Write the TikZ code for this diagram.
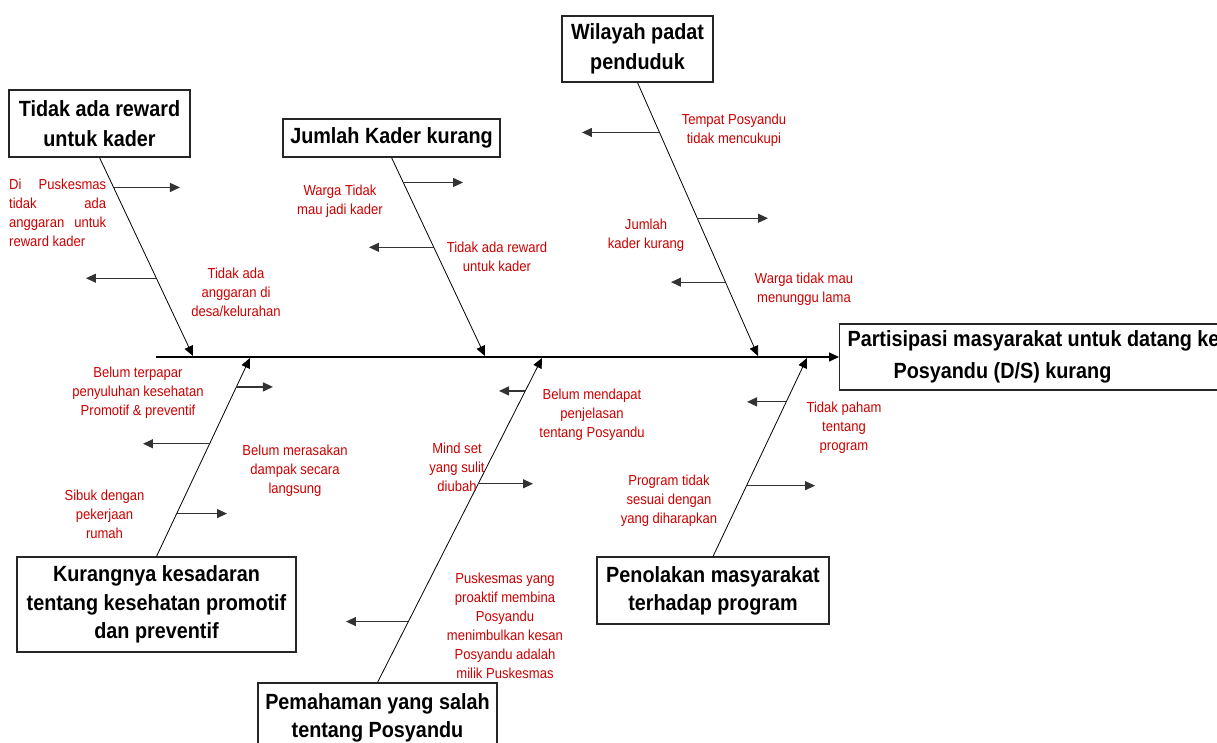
\documentclass[tikz,border=0pt]{standalone}
\usepackage{fontspec}
\usetikzlibrary{arrows.meta,calc}
\newfontfamily\labfont[FakeStretch=0.9]{Liberation Sans}
\definecolor{labred}{RGB}{204,0,0}
\begin{document}
\begin{tikzpicture}[x=1pt,y=-1pt,
  box/.style={draw=black!85, line width=1.1pt, fill=white, inner sep=0pt, align=center,
    font=\labfont\bfseries\fontsize{22}{29.7}\selectfont},
  lab/.style={text=labred, inner sep=0pt, align=center, anchor=base,
    font=\labfont\fontsize{14.5}{19}\selectfont},
  bone/.style={line width=0.8pt, -{Triangle[length=10pt,width=9pt]}},
  subarrow/.style={line width=1.2pt, draw=black!80, -{Triangle[length=10pt,width=9pt]}},
  spine/.style={line width=1.3pt, -{Triangle[length=10pt,width=9pt]}}]
\useasboundingbox (0,0) rectangle (1217,743);

% effect box
\node[box, anchor=west, inner xsep=8pt, minimum height=66pt, align=left,
  font=\labfont\bfseries\fontsize{22}{31.7}\selectfont] (E) at (839,357)
  {\makebox[400pt][l]{Partisipasi masyarakat untuk datang ke}\\\hspace*{46pt}Posyandu (D/S) kurang};

% cause boxes
\node[box, minimum width=181pt, minimum height=67pt] (B1) at (99.5,123.5) {Tidak ada reward\\untuk kader};
\node[box, minimum width=217pt, minimum height=38pt] (B2) at (391.5,138) {Jumlah Kader kurang};
\node[box, minimum width=151pt, minimum height=66pt] (B3) at (637.5,49) {Wilayah padat\\penduduk};
\node[box, minimum width=279pt, minimum height=95pt, font=\labfont\bfseries\fontsize{22}{28.5}\selectfont] (B4) at (156.5,604.5) {Kurangnya kesadaran\\tentang kesehatan promotif\\dan preventif};
\node[box, minimum width=239pt, minimum height=69pt, font=\labfont\bfseries\fontsize{22}{28}\selectfont] (B5) at (377.5,717.5) {Pemahaman yang salah\\tentang Posyandu};
\node[box, minimum width=232pt, minimum height=67pt, font=\labfont\bfseries\fontsize{22}{28}\selectfont] (B6) at (713,590.5) {Penolakan masyarakat\\terhadap program};

% spine
\coordinate (s0) at (156,357);
\draw[spine] (s0) -- (E.west);

% bone tips on the spine
\coordinate (t1) at (193,356);
\coordinate (t2) at (485,356);
\coordinate (t3) at (758,356);
\coordinate (b1) at (250,358);
\coordinate (b2) at (542,358);
\coordinate (b3) at (807,358);

\draw[bone] (B1.south) -- (t1);
\draw[bone] (B2.south) -- (t2);
\draw[bone] (B3.south) -- (t3);
\draw[bone] (B4.north) -- (b1);
\draw[bone] (B5.north) -- (b2);
\draw[bone] (B6.north) -- (b3);

% sub-cause arrows
\coordinate (a11) at ($(B1.south)!{30/199}!(t1)$);
\coordinate (a12) at ($(B1.south)!{121/199}!(t1)$);
\coordinate (a21) at ($(B2.south)!{25/199}!(t2)$);
\coordinate (a22) at ($(B2.south)!{90/199}!(t2)$);
\coordinate (a31) at ($(B3.south)!{50/274}!(t3)$);
\coordinate (a32) at ($(B3.south)!{136/274}!(t3)$);
\coordinate (a33) at ($(B3.south)!{200/274}!(t3)$);
\coordinate (c11) at ($(B4.north)!{170/199}!(b1)$);
\coordinate (c12) at ($(B4.north)!{113/199}!(b1)$);
\coordinate (c13) at ($(B4.north)!{43/199}!(b1)$);
\coordinate (c21) at ($(B5.north)!{292/325}!(b2)$);
\coordinate (c22) at ($(B5.north)!{199/325}!(b2)$);
\coordinate (c23) at ($(B5.north)!{61/325}!(b2)$);
\coordinate (c31) at ($(B6.north)!{155/199}!(b3)$);
\coordinate (c32) at ($(B6.north)!{71/199}!(b3)$);

\draw[subarrow] (a11) -- ++(66.4,0);
\draw[subarrow] (a12) -- ++(-70.4,0);
\draw[subarrow] (a21) -- ++(59.8,0);
\draw[subarrow] (a22) -- ++(-64.8,0);
\draw[subarrow] (a31) -- ++(-77.5,0);
\draw[subarrow] (a32) -- ++(70.7,0);
\draw[subarrow] (a33) -- ++(-54.5,0);
\draw[subarrow] (c11) -- ++(36.6,0);
\draw[subarrow] (c12) -- ++(-66.6,0);
\draw[subarrow] (c13) -- ++(50.3,0);
\draw[subarrow] (c21) -- ++(-26.3,0);
\draw[subarrow] (c22) -- ++(54.8,0);
\draw[subarrow] (c23) -- ++(-62.4,0);
\draw[subarrow] (c31) -- ++(-39.2,0);
\draw[subarrow] (c32) -- ++(68.5,0);

% labels (anchor = baseline of the last line)
\node[lab, anchor=base west, align=left] (L11) at (9,247)
  {\hbox to 97pt{Di\hfill Puskesmas}\\\hbox to 97pt{tidak\hfill ada}\\\hbox to 97pt{anggaran\hfill untuk}\\reward kader};
\node[lab] (L12) at (236,316) {Tidak ada\\anggaran di\\desa/kelurahan};
\node[lab] (L21) at (340,215) {Warga Tidak\\mau jadi kader};
\node[lab] (L22) at (497,271) {Tidak ada reward\\untuk kader};
\node[lab] (L31) at (734,144) {Tempat Posyandu\\tidak mencukupi};
\node[lab] (L32) at (646,249) {Jumlah\\kader kurang};
\node[lab] (L33) at (804,302) {Warga tidak mau\\menunggu lama};
\node[lab] (M11) at (138,415) {Belum terpapar\\penyuluhan kesehatan\\Promotif \& preventif};
\node[lab] (M12) at (295,493) {Belum merasakan\\dampak secara\\langsung};
\node[lab] (M13) at (104.5,538) {Sibuk dengan\\pekerjaan\\rumah};
\node[lab] (M21) at (592,437) {Belum mendapat\\penjelasan\\tentang Posyandu};
\node[lab] (M22) at (457,491) {Mind set\\yang sulit\\diubah};
\node[lab] (M23) at (505,678) {Puskesmas yang\\proaktif membina\\Posyandu\\menimbulkan kesan\\Posyandu adalah\\milik Puskesmas};
\node[lab] (M31) at (844,450) {Tidak paham\\tentang\\program};
\node[lab] (M32) at (669,523) {Program tidak\\sesuai dengan\\yang diharapkan};
\end{tikzpicture}
\end{document}
